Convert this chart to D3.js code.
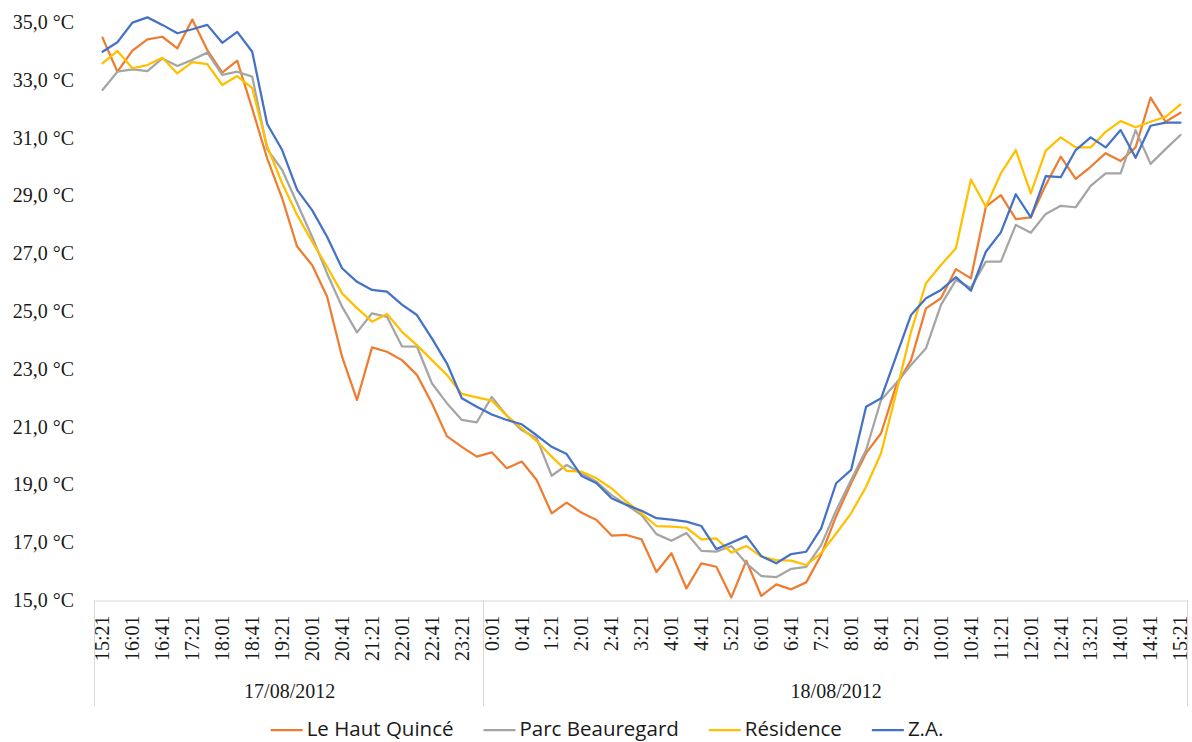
<!DOCTYPE html>
<html>
<head>
<meta charset="utf-8">
<script src="https://cdn.jsdelivr.net/npm/d3@7"></script>
<style>
  html, body { margin: 0; padding: 0; background: #ffffff; }
  svg { display: block; }
</style>
</head>
<body>
<svg id="chart" width="1192" height="742"></svg>
<script>
// Time of day for each 20-minute reading, grouped by day
const day1Times = ["15:21","15:41","16:01","16:21","16:41","17:01","17:21","17:41","18:01","18:21",
  "18:41","19:01","19:21","19:41","20:01","20:21","20:41","21:01","21:21","21:41",
  "22:01","22:21","22:41","23:01","23:21","23:41"];
const day2Times = ["0:01","0:21","0:41","1:01","1:21","1:41","2:01","2:21","2:41","3:01",
  "3:21","3:41","4:01","4:21","4:41","5:01","5:21","5:41","6:01","6:21",
  "6:41","7:01","7:21","7:41","8:01","8:21","8:41","9:01","9:21","9:41",
  "10:01","10:21","10:41","11:01","11:21","11:41","12:01","12:21","12:41","13:01",
  "13:21","13:41","14:01","14:21","14:41","15:01","15:21"];
const days = ["17/08/2012", "18/08/2012"];

const seriesNames = ["Le Haut Quincé", "Parc Beauregard", "Résidence", "Z.A."];

// Temperatures in °C
const hautQuince = [34.46,33.28,34.01,34.40,34.49,34.09,35.09,34.03,33.25,33.66,
  32.00,30.28,28.90,27.23,26.59,25.50,23.42,21.92,23.74,23.59,
  23.30,22.79,21.81,20.67,20.30,19.96,20.11,19.56,19.79,19.15,
  18.00,18.37,18.02,17.77,17.23,17.25,17.10,15.97,16.62,15.40,
  16.27,16.15,15.09,16.36,15.14,15.54,15.37,15.61,16.56,17.90,
  19.04,20.08,20.77,22.40,23.30,25.09,25.44,26.45,26.13,28.61,
  29.01,28.18,28.24,29.36,30.34,29.57,29.99,30.46,30.19,30.66,
  32.38,31.55,31.86];
const parcBeauregard = [32.65,33.28,33.36,33.30,33.74,33.48,33.69,33.94,33.17,33.28,
  33.11,30.60,29.88,28.73,27.57,26.30,25.15,24.26,24.92,24.80,
  23.78,23.77,22.50,21.81,21.23,21.15,22.03,21.38,20.88,20.60,
  19.30,19.67,19.38,19.09,18.63,18.29,17.94,17.28,17.05,17.32,
  16.70,16.67,16.87,16.27,15.83,15.79,16.08,16.15,16.90,18.10,
  19.15,20.19,21.92,22.50,23.13,23.71,25.21,26.07,25.80,26.71,
  26.71,27.98,27.71,28.36,28.64,28.59,29.33,29.76,29.76,31.26,
  30.09,30.60,31.09];
const residence = [33.57,34.00,33.40,33.51,33.76,33.22,33.61,33.54,32.82,33.13,
  32.71,30.70,29.42,28.32,27.40,26.53,25.61,25.10,24.63,24.90,
  24.28,23.82,23.30,22.79,22.13,22.01,21.90,21.38,20.95,20.50,
  19.96,19.47,19.44,19.21,18.86,18.40,18.00,17.56,17.54,17.50,
  17.10,17.13,16.64,16.87,16.50,16.38,16.36,16.21,16.62,17.30,
  18.00,18.92,20.08,22.15,24.28,25.96,26.59,27.17,29.55,28.61,
  29.76,30.57,29.07,30.55,31.01,30.66,30.66,31.20,31.57,31.36,
  31.55,31.72,32.15];
const zoneActivite = [33.97,34.30,34.98,35.16,34.90,34.61,34.75,34.90,34.28,34.66,
  33.97,31.47,30.57,29.19,28.49,27.57,26.48,26.01,25.73,25.67,
  25.22,24.86,24.05,23.19,21.98,21.69,21.42,21.23,21.08,20.70,
  20.30,20.05,19.29,19.04,18.52,18.29,18.09,17.83,17.78,17.71,
  17.56,16.76,16.98,17.21,16.52,16.27,16.59,16.67,17.48,19.04,
  19.50,21.69,21.98,23.42,24.86,25.44,25.73,26.17,25.70,27.05,
  27.72,29.04,28.24,29.67,29.63,30.57,31.01,30.66,31.26,30.30,
  31.41,31.52,31.52];

const yTicks = [15, 17, 19, 21, 23, 25, 27, 29, 31, 33, 35];
const colors = ["#ED7D31", "#A5A5A5", "#FFC000", "#4472C4"];

const times = day1Times.concat(day2Times);
const seriesValues = [hautQuince, parcBeauregard, residence, zoneActivite];

const svg = d3.select("#chart");
const plot = { left: 95, right: 1188, top: 22, bottom: 600 };

const x = d3.scaleBand()
  .domain(d3.range(times.length))
  .range([plot.left, plot.right])
  .paddingInner(0).paddingOuter(0);

const y = d3.scaleLinear()
  .domain([15, 35])
  .range([plot.bottom, plot.top]);

const serif = "'Liberation Serif', 'Times New Roman', serif";
const gridColor = "#d9d9d9";

// Y axis: labels only
const yAxis = svg.append("g")
  .attr("transform", "translate(74,0)")
  .call(d3.axisLeft(y).tickValues(yTicks).tickSize(0).tickPadding(0)
    .tickFormat(d => d3.format(".1f")(d).replace(".", ",") + " °C"));
yAxis.select(".domain").remove();
yAxis.selectAll("text")
  .attr("font-family", serif)
  .attr("font-size", 20)
  .attr("fill", "#1a1a1a")
  .attr("dy", "0.32em");

// X axis line and time labels (every second reading)
const xAxis = svg.append("g")
  .attr("transform", `translate(0,${plot.bottom + 0.5})`)
  .call(d3.axisBottom(x)
    .tickValues(d3.range(0, times.length, 2))
    .tickSize(0)
    .tickFormat(i => times[i]));
xAxis.select(".domain")
  .attr("stroke", gridColor)
  .attr("stroke-width", 1);
xAxis.selectAll(".tick text")
  .attr("font-family", serif)
  .attr("font-size", 20)
  .attr("fill", "#1a1a1a")
  .attr("text-anchor", "end")
  .attr("y", 0)
  .attr("dy", "0.34em")
  .attr("transform", "translate(0,15) rotate(-90)");

// Day group separators and labels
const dayBounds = [0, day1Times.length, times.length];
const sepX = [plot.left, x(day1Times.length), plot.right];
svg.append("g")
  .selectAll("line")
  .data(sepX)
  .join("line")
  .attr("x1", d => Math.round(d) - 0.5)
  .attr("x2", d => Math.round(d) - 0.5)
  .attr("y1", plot.bottom)
  .attr("y2", 706)
  .attr("stroke", gridColor)
  .attr("stroke-width", 1);

svg.append("g")
  .selectAll("text")
  .data(days)
  .join("text")
  .attr("x", (d, i) => {
    const a = x(dayBounds[i]);
    const b = dayBounds[i + 1] < times.length ? x(dayBounds[i + 1]) : plot.right;
    return (a + b) / 2;
  })
  .attr("y", 698)
  .attr("text-anchor", "middle")
  .attr("font-family", serif)
  .attr("font-size", 20)
  .attr("fill", "#1a1a1a")
  .text(d => d);

// Series lines
const line = d3.line()
  .x((d, i) => x(i) + x.bandwidth() / 2)
  .y(d => y(d));

svg.append("g")
  .selectAll("path")
  .data(seriesValues)
  .join("path")
  .attr("d", d => line(d))
  .attr("fill", "none")
  .attr("stroke", (d, i) => colors[i])
  .attr("stroke-width", 2.25)
  .attr("stroke-linejoin", "round")
  .attr("stroke-linecap", "round");

// Legend
const legendFont = "'Open Sans', 'Noto Sans', sans-serif";
const legend = svg.append("g");
const items = legend.selectAll("g")
  .data(seriesNames)
  .join("g");
items.append("line")
  .attr("x1", 0).attr("x2", 32)
  .attr("y1", 0).attr("y2", 0)
  .attr("stroke", (d, i) => colors[i])
  .attr("stroke-width", 2.25);
items.append("text")
  .attr("x", 36)
  .attr("y", 0)
  .attr("dy", "0.3em")
  .attr("font-family", legendFont)
  .attr("font-size", 20.5)
  .attr("fill", "#1a1a1a")
  .text(d => d);

let offset = 0;
const widths = [];
items.each(function () {
  const w = 36 + this.querySelector("text").getComputedTextLength();
  widths.push(w);
});
const totalW = d3.sum(widths) + 30 * (widths.length - 1);
const startX = 607 - totalW / 2;
items.attr("transform", (d, i) => {
  const tx = startX + offset;
  offset += widths[i] + 30;
  return `translate(${tx},730)`;
});
</script>
</body>
</html>
